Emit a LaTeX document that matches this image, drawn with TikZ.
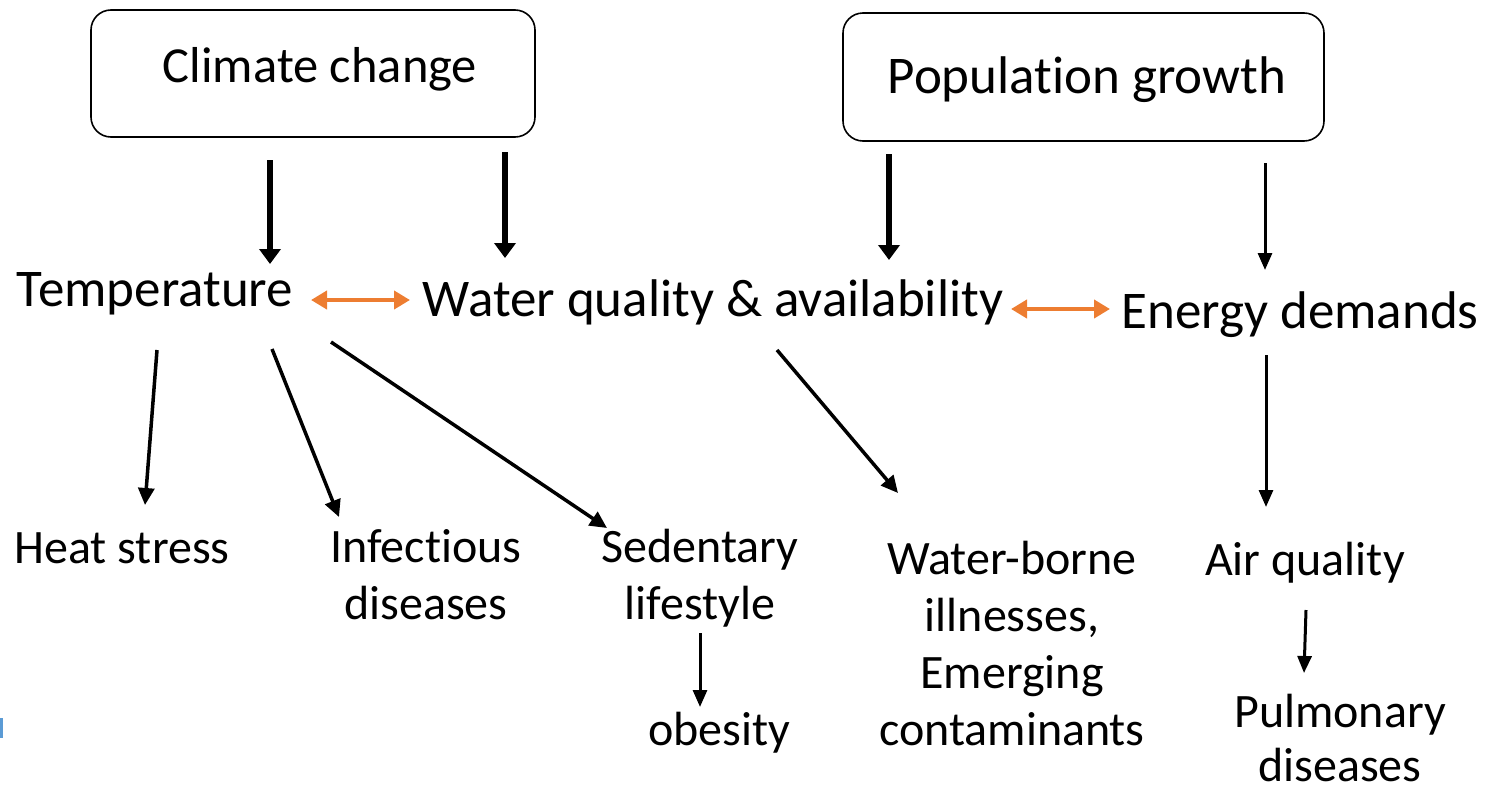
\documentclass[tikz,border=0pt]{standalone}
\usepackage{fontspec}
\setmainfont{Carlito}[Ligatures=NoCommon]
\usetikzlibrary{arrows.meta}
\definecolor{orangeArr}{RGB}{237,125,49}
\definecolor{blueMark}{RGB}{91,155,213}
\tikzset{
  topbox/.style={draw=black, line width=1.6pt, rounded corners=20pt, inner sep=0pt},
  big/.style={font=\fontsize{53}{60}\selectfont, inner sep=0pt, anchor=base},
  mid/.style={font=\fontsize{50.5}{60}\selectfont, inner sep=0pt, anchor=base},
  small/.style={font=\fontsize{48}{57}\selectfont, inner sep=0pt, anchor=base, align=center},
  thickarr/.style={line width=6.5pt, -{Triangle[length=15pt,width=21pt]}},
  thinarr/.style={line width=3.5pt, -{Triangle[length=17pt,width=16pt]}},
  vthin/.style={line width=3pt, -{Triangle[length=17pt,width=14pt]}},
  twoway/.style={orangeArr, line width=4pt, {Triangle[length=16pt,width=18pt]}-{Triangle[length=16pt,width=18pt]}}
}
\begin{document}
\begin{tikzpicture}[x=1pt,y=-1pt]
\useasboundingbox (0,0) rectangle (1490,790);
% boxes
\node[topbox, minimum width=444pt, minimum height=127pt] (ccbox) at (313,73.5) {};
\node[mid] (cc) at (320,82) {Climate change};
\node[topbox, minimum width=481pt, minimum height=128pt] (pgbox) at (1083.5,77) {};
\node[mid, font=\fontsize{53}{60}\selectfont] (pg) at (1087,93) {Population growth};
% middle row
\node[big] (temp) at (155,306) {Temperature};
\node[big] (water) at (713,316) {Water quality \& availability};
\node[big] (energy) at (1300,328) {Energy demands};
% bottom row (base anchor = last line baseline)
\node[small] (heat) at (122,563) {Heat stress};
\node[small] (infect) at (426,619) {Infectious\\diseases};
\node[small] (sed) at (700,619) {Sedentary\\lifestyle};
\node[small] (obes) at (719,745) {obesity};
\node[small] (wb) at (1012,745) {Water-borne\\illnesses,\\Emerging\\contaminants};
\node[small] (air) at (1305,575) {Air quality};
\node[small, font=\fontsize{48}{54}\selectfont] (pulm) at (1340,781) {Pulmonary\\\smash{diseases}};
% connector endpoints
\coordinate (c1s) at (270,160); \coordinate (c1e) at (270,264);
\coordinate (c2s) at (505,152); \coordinate (c2e) at (505,258);
\coordinate (p1s) at (889,154); \coordinate (p1e) at (889,260);
\coordinate (p2s) at (1265,163); \coordinate (p2e) at (1265,270);
\coordinate (o1s) at (311,300); \coordinate (o1e) at (410,300);
\coordinate (o2s) at (1011,309); \coordinate (o2e) at (1110,309);
\coordinate (t1s) at (157,350); \coordinate (t1e) at (145,505);
\coordinate (t2s) at (272,349); \coordinate (t2e) at (339,517);
\coordinate (t3s) at (331,342); \coordinate (t3e) at (607,528);
\coordinate (w1s) at (777,350); \coordinate (w1e) at (898,493);
\coordinate (e1s) at (1266,355); \coordinate (e1e) at (1266,507);
\coordinate (a1s) at (1306,610); \coordinate (a1e) at (1304,673);
\coordinate (s1s) at (700,633); \coordinate (s1e) at (700,707);
% connectors
\draw[thickarr] (c1s) -- (c1e);
\draw[thickarr] (c2s) -- (c2e);
\draw[thickarr] (p1s) -- (p1e);
\draw[vthin] (p2s) -- (p2e);
\draw[twoway] (o1s) -- (o1e);
\draw[twoway] (o2s) -- (o2e);
\draw[thinarr] (t1s) -- (t1e);
\draw[thinarr] (t2s) -- (t2e);
\draw[thinarr] (t3s) -- (t3e);
\draw[thinarr] (w1s) -- (w1e);
\draw[vthin] (e1s) -- (e1e);
\draw[vthin] (a1s) -- (a1e);
\draw[vthin] (s1s) -- (s1e);
% small blue mark at left edge
\fill[blueMark] (0,718) rectangle (3,738);
\end{tikzpicture}
\end{document}
